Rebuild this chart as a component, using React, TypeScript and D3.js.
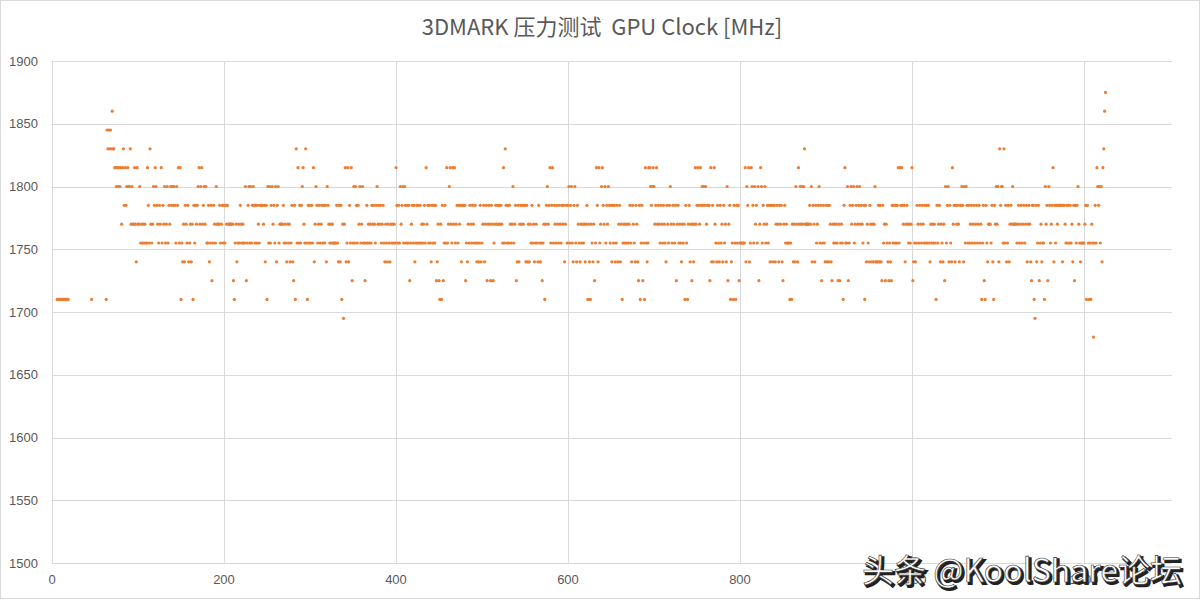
import React, { useRef, useEffect } from 'react';
import * as d3 from 'd3';

// GPU clock (MHz) per sample. null = sample below the axis range (not drawn)
const N = null;

const clock0001to0100: (number | null)[] = [
  N, N, N, N, N, 1710, 1710, 1710, 1710, 1710,
  1710, 1710, 1710, 1710, 1710, 1710, 1710, 1710, 1710, N,
  N, N, N, N, N, N, N, N, N, N,
  N, N, N, N, N, N, N, N, N, N,
  N, N, N, N, N, 1710, N, N, N, N,
  N, N, N, N, N, N, N, N, N, N,
  N, N, 1710, 1845, 1830, 1845, 1830, 1845, 1830, 1860,
  1830, 1830, 1815, 1815, 1800, 1815, 1800, 1815, 1800, 1815,
  1770, 1815, 1830, 1785, 1815, 1785, 1800, 1815, 1800, 1800,
  1830, 1770, 1800, 1770, 1770, 1815, 1770, 1740, 1815, 1770,
];

const clock0101to0200 = [
  1770, 1800, 1755, 1770, 1755, 1770, 1755, 1770, 1755, 1755,
  1815, 1785, 1755, 1830, 1770, 1755, 1770, 1800, 1785, 1815,
  1800, 1785, 1770, 1755, 1785, 1770, 1815, 1755, 1785, 1770,
  1800, 1755, 1770, 1800, 1755, 1785, 1770, 1800, 1785, 1800,
  1785, 1800, 1785, 1755, 1800, 1785, 1815, 1755, 1815, 1710,
  1755, 1740, 1770, 1740, 1785, 1770, 1755, 1785, 1740, 1755,
  1770, 1740, 1770, 1710, 1785, 1755, 1785, 1770, 1785, 1800,
  1815, 1770, 1800, 1815, 1770, 1785, 1800, 1770, 1800, 1755,
  1755, 1785, 1740, 1755, 1785, 1725, 1755, 1785, 1770, 1755,
  1800, 1770, 1770, 1770, 1785, 1755, 1770, 1785, 1755, 1785,
];

const clock0201to0300 = [
  1755, 1785, 1770, 1785, 1770, 1770, 1770, 1770, 1770, 1770,
  1725, 1710, 1755, 1770, 1740, 1755, 1770, 1755, 1785, 1770,
  1755, 1770, 1755, 1755, 1800, 1725, 1755, 1785, 1800, 1755,
  1800, 1755, 1785, 1800, 1785, 1755, 1785, 1755, 1785, 1770,
  1755, 1785, 1785, 1785, 1785, 1770, 1785, 1740, 1785, 1710,
  1800, 1755, 1800, 1755, 1785, 1800, 1770, 1785, 1755, 1800,
  1740, 1785, 1800, 1755, 1770, 1770, 1770, 1770, 1785, 1755,
  1770, 1755, 1740, 1770, 1755, 1770, 1740, 1755, 1785, 1740,
  1725, 1785, 1710, 1830, 1755, 1815, 1755, 1785, 1755, 1785,
  1800, 1815, 1770, 1755, 1830, 1755, 1710, 1785, 1755, 1785,
];

const clock0301to0400 = [
  1755, 1785, 1755, 1815, 1740, 1770, 1800, 1785, 1755, 1770,
  1785, 1755, 1770, 1785, 1755, 1785, 1755, 1785, 1740, 1800,
  1785, 1770, 1755, 1770, 1755, 1770, 1755, 1755, 1755, 1755,
  1785, 1755, 1740, 1785, 1740, 1785, 1710, 1770, 1695, 1770,
  1815, 1740, 1755, 1815, 1740, 1785, 1755, 1815, 1725, 1755,
  1800, 1755, 1800, 1785, 1755, 1785, 1770, 1800, 1755, 1770,
  1800, 1755, 1755, 1725, 1755, 1785, 1755, 1770, 1755, 1770,
  1755, 1785, 1770, 1785, 1770, 1755, 1785, 1800, 1770, 1785,
  1770, 1785, 1755, 1770, 1785, 1755, 1740, 1770, 1755, 1740,
  1770, 1755, 1740, 1770, 1755, 1770, 1755, 1770, 1755, 1815,
];

const clock0401to0500 = [
  1785, 1755, 1785, 1755, 1800, 1770, 1785, 1800, 1755, 1800,
  1785, 1755, 1785, 1755, 1785, 1725, 1755, 1770, 1785, 1755,
  1785, 1740, 1755, 1785, 1755, 1785, 1755, 1785, 1755, 1770,
  1755, 1770, 1785, 1755, 1815, 1770, 1785, 1755, 1785, 1755,
  1740, 1785, 1755, 1785, 1755, 1785, 1725, 1740, 1770, 1725,
  1710, 1770, 1710, 1785, 1725, 1755, 1785, 1755, 1815, 1755,
  1770, 1800, 1815, 1770, 1755, 1815, 1770, 1815, 1755, 1770,
  1785, 1755, 1785, 1770, 1785, 1740, 1785, 1785, 1785, 1785,
  1725, 1755, 1740, 1770, 1755, 1785, 1770, 1755, 1785, 1770,
  1755, 1785, 1755, 1740, 1755, 1740, 1755, 1785, 1740, 1755,
];

const clock0501to0600 = [
  1770, 1785, 1740, 1770, 1785, 1725, 1770, 1785, 1770, 1725,
  1785, 1770, 1725, 1755, 1770, 1785, 1770, 1785, 1770, 1785,
  1770, 1785, 1770, 1755, 1815, 1755, 1830, 1785, 1755, 1785,
  1755, 1785, 1770, 1755, 1770, 1800, 1755, 1770, 1785, 1725,
  1740, 1785, 1740, 1770, 1785, 1770, 1785, 1770, 1785, 1785,
  1740, 1785, 1740, 1770, 1740, 1770, 1755, 1785, 1755, 1770,
  1740, 1755, 1770, 1755, 1740, 1785, 1755, 1740, 1755, 1725,
  1755, 1770, 1710, 1770, 1785, 1800, 1770, 1785, 1815, 1755,
  1785, 1815, 1755, 1785, 1770, 1755, 1785, 1770, 1755, 1785,
  1770, 1755, 1785, 1770, 1785, 1740, 1770, 1785, 1755, 1785,
];

const clock0601to0700 = [
  1800, 1755, 1785, 1800, 1755, 1740, 1785, 1800, 1755, 1740,
  1785, 1770, 1755, 1740, 1770, 1755, 1770, 1755, 1770, 1740,
  1770, 1785, 1710, 1770, 1740, 1710, 1770, 1755, 1740, 1770,
  1725, 1755, 1815, 1785, 1740, 1815, 1755, 1770, 1800, 1815,
  1785, 1770, 1800, 1755, 1785, 1770, 1800, 1785, 1755, 1785,
  1740, 1785, 1755, 1785, 1740, 1755, 1785, 1740, 1770, 1785,
  1740, 1770, 1710, 1755, 1770, 1755, 1770, 1755, 1770, 1755,
  1770, 1785, 1755, 1740, 1785, 1770, 1755, 1740, 1785, 1770,
  1740, 1725, 1785, 1710, 1755, 1785, 1725, 1755, 1710, 1815,
  1755, 1740, 1755, 1815, 1815, 1800, 1785, 1800, 1815, 1800,
];

const clock0701to0800 = [
  1770, 1785, 1815, 1770, 1785, 1770, 1755, 1785, 1770, 1755,
  1785, 1770, 1755, 1740, 1785, 1770, 1755, 1785, 1800, 1770,
  1755, 1785, 1770, 1755, 1785, 1725, 1770, 1785, 1755, 1770,
  1755, 1740, 1770, 1755, 1770, 1710, 1785, 1755, 1710, 1770,
  1785, 1740, 1770, 1725, 1770, 1740, 1770, 1815, 1770, 1785,
  1815, 1785, 1770, 1815, 1785, 1800, 1785, 1800, 1785, 1800,
  1770, 1785, 1785, 1785, 1725, 1815, 1740, 1785, 1740, 1815,
  1770, 1755, 1740, 1785, 1755, 1740, 1785, 1755, 1770, 1740,
  1785, 1755, 1770, 1740, 1800, 1725, 1770, 1785, 1710, 1740,
  1755, 1710, 1785, 1755, 1710, 1785, 1755, 1785, 1725, 1755,
];

const clock0801to0900 = [
  1755, 1755, 1755, 1755, 1755, 1815, 1740, 1800, 1785, 1815,
  1740, 1755, 1815, 1800, 1785, 1755, 1800, 1770, 1785, 1755,
  1800, 1725, 1770, 1815, 1800, 1755, 1785, 1770, 1800, 1755,
  1770, 1785, 1755, 1785, 1740, 1785, 1785, 1740, 1785, 1785,
  1740, 1770, 1785, 1770, 1740, 1785, 1770, 1785, 1740, 1725,
  1770, 1785, 1755, 1770, 1755, 1755, 1755, 1710, 1755, 1710,
  1770, 1740, 1770, 1740, 1800, 1770, 1740, 1815, 1770, 1800,
  1770, 1800, 1770, 1800, 1830, 1770, 1770, 1770, 1770, 1770,
  1785, 1770, 1800, 1740, 1785, 1770, 1740, 1785, 1755, 1770,
  1785, 1800, 1755, 1785, 1725, 1755, 1785, 1755, 1740, 1785,
];

const clock0901to1000 = [
  1740, 1785, 1740, 1785, 1770, 1740, 1725, 1770, 1755, 1770,
  1755, 1770, 1755, 1725, 1770, 1725, 1755, 1770, 1755, 1710,
  1785, 1815, 1755, 1755, 1800, 1725, 1755, 1785, 1800, 1770,
  1785, 1800, 1755, 1770, 1785, 1800, 1770, 1785, 1800, 1770,
  1785, 1770, 1755, 1785, 1710, 1785, 1740, 1770, 1755, 1740,
  1785, 1770, 1740, 1770, 1740, 1770, 1800, 1740, 1740, 1740,
  1785, 1740, 1785, 1740, 1725, 1785, 1755, 1770, 1725, 1770,
  1755, 1740, 1725, 1755, 1740, 1725, 1785, 1755, 1785, 1755,
  1785, 1755, 1785, 1815, 1755, 1815, 1785, 1815, 1785, 1770,
  1785, 1740, 1770, 1785, 1770, 1755, 1770, 1755, 1770, 1815,
];

const clock1001to1100 = [
  1725, 1740, 1755, 1740, 1755, 1785, 1770, 1755, 1785, 1770,
  1755, 1785, 1770, 1755, 1785, 1755, 1785, 1755, 1785, 1755,
  1740, 1770, 1755, 1770, 1755, 1770, 1755, 1710, 1785, 1755,
  1770, 1785, 1740, 1770, 1755, 1740, 1770, 1725, 1800, 1755,
  1785, 1800, 1740, 1785, 1755, 1740, 1815, 1770, 1785, 1740,
  1785, 1770, 1785, 1770, 1740, 1785, 1785, 1800, 1785, 1740,
  1800, 1755, 1800, 1785, 1755, 1785, 1755, 1770, 1785, 1755,
  1770, 1785, 1755, 1770, 1785, 1755, 1770, 1785, 1755, 1770,
  1710, 1755, 1785, 1725, 1710, 1785, 1755, 1740, 1770, 1770,
  1770, 1755, 1785, 1740, 1710, 1785, 1770, 1800, 1770, 1800,
];

const clock1101to1200 = [
  1740, 1830, 1785, 1800, 1800, 1755, 1830, 1755, 1785, 1740,
  1755, 1785, 1740, 1770, 1785, 1770, 1800, 1770, 1770, 1770,
  1770, 1755, 1770, 1785, 1755, 1770, 1785, 1755, 1770, 1785,
  1755, 1770, 1785, 1740, 1770, 1785, 1770, 1740, 1725, 1785,
  1785, 1710, 1695, 1785, 1740, 1755, 1785, 1725, 1755, 1770,
  1740, 1755, 1755, 1710, 1800, 1770, 1785, 1725, 1800, 1785,
  1755, 1770, 1785, 1815, 1740, 1785, 1755, 1785, 1770, 1785,
  1785, 1785, 1785, 1785, 1740, 1785, 1785, 1770, 1755, 1785,
  1755, 1785, 1755, 1785, 1755, 1770, 1740, 1785, 1725, 1785,
  1755, 1785, 1800, 1770, 1755, 1740, 1755, 1755, 1755, 1755,
];

const clock1201to1225 = [
  1770, 1785, 1710, 1785, 1755, 1710, 1755, 1710, 1770, 1755,
  1680, 1755, 1785, 1755, 1815, 1800, 1785, 1800, 1755, 1800,
  1740, 1815, 1830, 1860, 1875,
];

const xTicks = [0, 200, 400, 600, 800, 1000, 1200];
const yTicks = [1500, 1550, 1600, 1650, 1700, 1750, 1800, 1850, 1900];
const titleText = '3DMARK 压力测试  GPU Clock [MHz]';
const watermarkText = '头条 @KoolShare论坛';

const WIDTH = 1201;
const HEIGHT = 601;

const App: React.FC = () => {
  const svgRef = useRef<SVGSVGElement>(null);

  useEffect(() => {
    if (!svgRef.current) return;
    const svg = d3.select(svgRef.current);
    svg.selectAll('*').remove();

    const allClock = [
      ...clock0001to0100, ...clock0101to0200, ...clock0201to0300, ...clock0301to0400,
      ...clock0401to0500, ...clock0501to0600, ...clock0601to0700, ...clock0701to0800,
      ...clock0801to0900, ...clock0901to1000, ...clock1001to1100, ...clock1101to1200,
      ...clock1201to1225,
    ];
    const points = allClock
      .map((v, i) => ({ t: i + 1, v }))
      .filter((d): d is { t: number; v: number } => d.v !== null);

    const x = d3.scaleLinear().domain([0, 1300]).range([52, 1170]);
    const y = d3.scaleLinear().domain([1500, 1900]).range([563, 61]);
    const [x0, x1] = x.range();

    // chart area background + border
    svg.append('rect')
      .attr('x', 0.5).attr('y', 0.5)
      .attr('width', WIDTH - 2).attr('height', HEIGHT - 3)
      .attr('fill', '#fff').attr('stroke', '#d9d9d9');

    // gridlines
    svg.append('g')
      .selectAll('line')
      .data(yTicks)
      .join('line')
      .attr('x1', x0).attr('x2', x1 + 2)
      .attr('y1', d => Math.round(y(d)) + 0.5).attr('y2', d => Math.round(y(d)) + 0.5)
      .attr('stroke', '#d9d9d9');

    svg.append('g')
      .selectAll('line')
      .data(xTicks)
      .join('line')
      .attr('x1', d => Math.round(x(d)) + 0.5).attr('x2', d => Math.round(x(d)) + 0.5)
      .attr('y1', y(1900)).attr('y2', y(1500))
      .attr('stroke', '#d9d9d9');

    // tick labels
    const labelFont = '"Liberation Sans", Arial, sans-serif';
    svg.append('g')
      .selectAll('text')
      .data(yTicks)
      .join('text')
      .attr('x', 38)
      .attr('y', d => y(d))
      .attr('dy', '0.36em')
      .attr('text-anchor', 'end')
      .attr('font-family', labelFont)
      .attr('font-size', 13)
      .attr('fill', '#595959')
      .text(d => d);

    svg.append('g')
      .selectAll('text')
      .data(xTicks)
      .join('text')
      .attr('x', d => x(d))
      .attr('y', 584)
      .attr('text-anchor', 'middle')
      .attr('font-family', labelFont)
      .attr('font-size', 13)
      .attr('fill', '#595959')
      .text(d => d);

    // points
    svg.append('g')
      .selectAll('circle')
      .data(points)
      .join('circle')
      .attr('cx', d => x(d.t))
      .attr('cy', d => y(d.v))
      .attr('r', 1.6)
      .attr('fill', '#ED7D31');

    // title
    svg.append('text')
      .attr('x', 602)
      .attr('y', 35)
      .attr('text-anchor', 'middle')
      .attr('font-family', '"Noto Sans CJK SC", "Noto Sans", sans-serif')
      .attr('font-size', 22)
      .attr('fill', '#595959')
      .style('white-space', 'pre')
      .text(titleText);

    // watermark
    const wm = svg.append('g').attr('font-family', '"Noto Sans CJK SC", sans-serif').attr('font-size', 32);
    wm.append('text')
      .attr('x', 864).attr('y', 584)
      .attr('fill', '#222')
      .attr('stroke', '#222').attr('stroke-width', 2)
      .text(watermarkText);
    wm.append('text')
      .attr('x', 862).attr('y', 582)
      .attr('fill', '#fff')
      .attr('stroke', '#333').attr('stroke-width', 0.6)
      .text(watermarkText);
  }, []);

  return (
    <svg
      ref={svgRef}
      width={WIDTH}
      height={HEIGHT}
      style={{ position: 'absolute', left: 0, top: 0, display: 'block', background: '#fff' }}
    />
  );
};

export default App;
